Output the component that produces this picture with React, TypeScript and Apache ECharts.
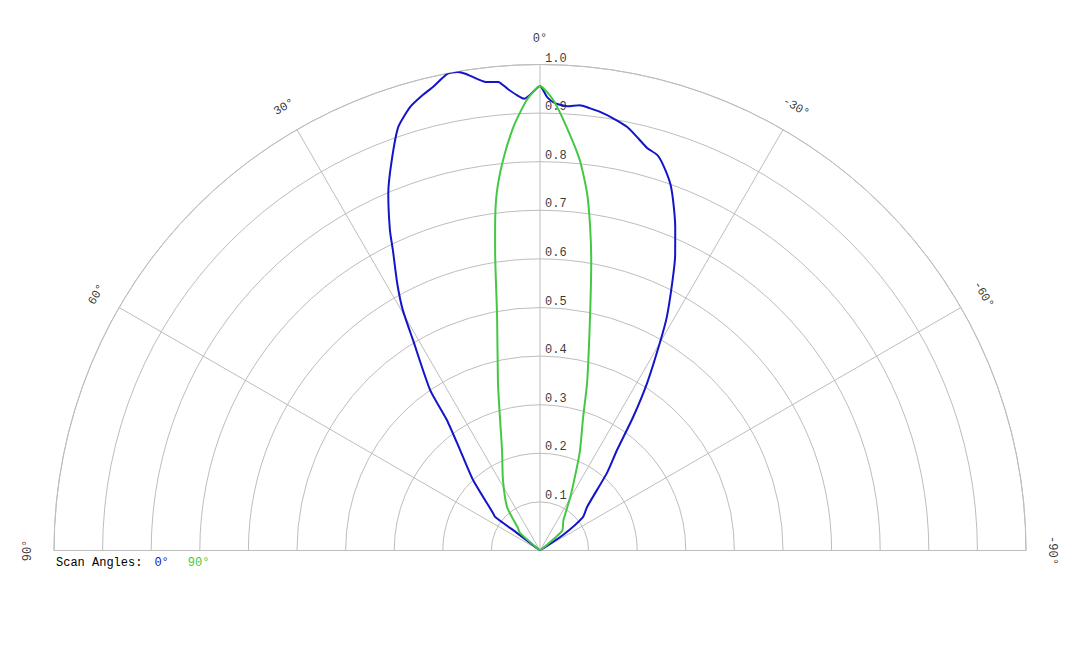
import * as echarts from "echarts";
import React, { useEffect, useRef } from "react";

// [radius, angle in degrees] — positive angles lean left of vertical
const scan0: number[][] = [
  [0, 52], [0.059, 52.7], [0.115, 53.3], [0.124, 51.4], [0.2, 43.5], [0.264, 38.5],
  [0.33, 35.5], [0.4, 34.4], [0.506, 31.1], [0.57, 29.7], [0.624, 28.1], [0.688, 26.1],
  [0.728, 25.1], [0.799, 23.0], [0.859, 20.8], [0.919, 18.5], [0.951, 16.3], [0.968, 14.4],
  [0.979, 13.0], [0.999, 11.0], [0.999, 9.8], [0.993, 8.9], [0.979, 7.6], [0.97, 6.5],
  [0.968, 5.1], [0.952, 4.0], [0.938, 2.9], [0.93, 2.0], [0.937, 1.3], [0.956, 0],
  [0.933, -0.9], [0.921, -1.9], [0.916, -3.5], [0.92, -5.1], [0.916, -6.4], [0.911, -7.8],
  [0.902, -9.6], [0.89, -11.6], [0.872, -13.4], [0.857, -14.9], [0.849, -16.5], [0.833, -17.7],
  [0.802, -19.5], [0.771, -20.8], [0.721, -22.7], [0.668, -24.6], [0.614, -26.3], [0.547, -28.5],
  [0.493, -30.0], [0.409, -32.6], [0.335, -34.9], [0.26, -37.5], [0.211, -40.8], [0.132, -47.2],
  [0.112, -52.1], [0.057, -56.0], [0, -56],
];

const scan90: number[][] = [
  [0, 48], [0.055, 48.8], [0.065, 44.4], [0.112, 37.2], [0.164, 27.7], [0.221, 20.7],
  [0.287, 16.7], [0.355, 14.1], [0.489, 10.4], [0.625, 8.5], [0.672, 7.9], [0.741, 6.9],
  [0.807, 5.4], [0.873, 3.6], [0.927, 1.7], [0.956, 0], [0.927, -1.7], [0.873, -3.6],
  [0.808, -5.8], [0.742, -7.5], [0.674, -8.8], [0.607, -10.0], [0.491, -12.1], [0.358, -15.7],
  [0.289, -17.9], [0.223, -21.7], [0.186, -24.0], [0.127, -29.5], [0.078, -38.0],
  [0.061, -48.3], [0, -50],
];

const radiusTicks = [0.1, 0.2, 0.3, 0.4, 0.5, 0.6, 0.7, 0.8, 0.9, 1.0];
const angleTicks = [90, 60, 30, 0, -30, -60, -90];

const gridColor = "#bdbdbd";
const blue = "#1414c8";
const green = "#44c844";
const font = "'Liberation Mono', 'DejaVu Sans Mono', monospace";

const App: React.FC = () => {
  const chartRef = useRef<HTMLDivElement | null>(null);

  useEffect(() => {
    const chart = echarts.init(chartRef.current, null, { renderer: "svg" });
    chart.setOption({
      animation: false,
      backgroundColor: "#ffffff",
      title: {
        left: 51,
        top: 552,
        text: "{a|Scan Angles:}{b|0°}{c|90°}",
        textStyle: {
          fontFamily: font,
          fontSize: 12,
          fontWeight: "normal",
          rich: {
            a: { color: "#000", fontFamily: font, fontSize: 12 },
            b: { color: blue, fontFamily: font, fontSize: 12, padding: [0, 0, 0, 12] },
            c: { color: green, fontFamily: font, fontSize: 12, padding: [0, 0, 0, 19] },
          },
        },
      },
      polar: { center: [540, 550.5], radius: 486 },
      angleAxis: {
        type: "value",
        min: -90,
        max: 90,
        interval: 30,
        startAngle: 0,
        endAngle: 180,
        clockwise: false,
        axisLine: { show: true, lineStyle: { color: gridColor, width: 1 } },
        axisTick: { show: false },
        axisLabel: { show: false },
        splitLine: { show: true, lineStyle: { color: gridColor, width: 1 } },
      },
      radiusAxis: {
        type: "value",
        min: 0,
        max: 1,
        interval: 0.1,
        axisLine: { show: false },
        axisTick: { show: false },
        axisLabel: { show: false },
        splitLine: { show: true, lineStyle: { color: gridColor, width: 1 } },
      },
      series: [
        {
          name: "0°",
          type: "line",
          coordinateSystem: "polar",
          data: scan0,
          showSymbol: false,
          smooth: 0.2,
          lineStyle: { color: blue, width: 2 },
          z: 3,
        },
        {
          name: "90°",
          type: "line",
          coordinateSystem: "polar",
          data: scan90,
          showSymbol: false,
          smooth: 0.2,
          lineStyle: { color: green, width: 2 },
          z: 4,
        },
        {
          type: "scatter",
          coordinateSystem: "polar",
          symbolSize: 0,
          clip: false,
          silent: true,
          data: radiusTicks.map((r) => [r, 0]),
          label: {
            show: true,
            position: [5, -6],
            align: "left",
            verticalAlign: "middle",
            fontFamily: font,
            fontSize: 12,
            color: "#000",
            textBorderWidth: 0,
            formatter: (p: any) => p.value[0].toFixed(1),
          },
        },
        {
          type: "scatter",
          coordinateSystem: "polar",
          symbolSize: 0,
          clip: false,
          silent: true,
          data: angleTicks.map((a) => ({
            value: [1.053, a],
            label: { rotate: a },
          })),
          label: {
            show: true,
            position: "inside",
            align: "center",
            verticalAlign: "middle",
            fontFamily: font,
            fontSize: 12,
            color: "#000",
            textBorderWidth: 0,
            formatter: (p: any) => p.value[1] + "°",
          },
        },
      ],
    });

    return () => {
      chart.dispose();
    };
  }, []);

  return (
    <div
      ref={chartRef}
      style={{ position: "absolute", left: 0, top: 0, width: "1080px", height: "648px" }}
    ></div>
  );
};

export default App;
